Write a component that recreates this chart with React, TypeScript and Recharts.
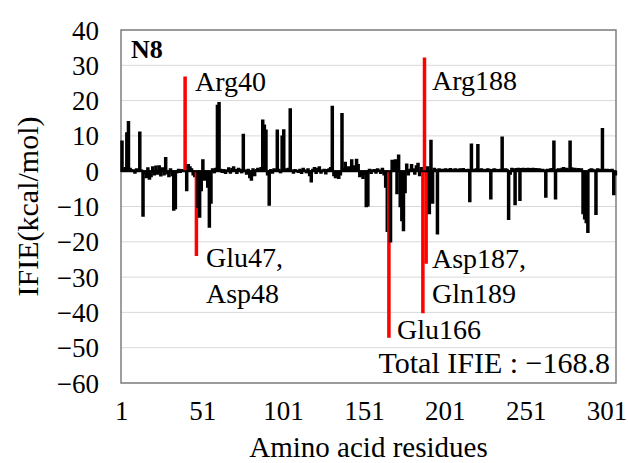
import React from 'react';
import { BarChart, Bar, XAxis, YAxis, CartesianGrid, Cell, ReferenceLine, ReferenceArea } from 'recharts';

// IFIE per residue (kcal/mol), residues 1..306
const ifie: number[] = [
  8.5, 0.5, 1.0, 10.8, 14.0, 0.8, 0.4, 0.3, -0.5, 0.6,
  0.4, 11.0, 0.3, -12.7, -0.6, -1.8, 0.9, -2.2, -1.5, 1.2,
  -1.0, 1.4, -0.8, 1.5, -1.3, 0.9, -1.0, 3.8, -0.7, -1.5,
  0.6, -1.2, -11.0, -10.6, -0.4, 0.5, -0.3, 0.4, 0.2, 26.6,
  -5.5, 1.8, 1.2, 0.6, -1.0, -1.5, -23.8, -10.2, -13.0, -5.5,
  3.2, -2.5, -1.0, -4.5, -15.8, -9.0, 0.6, -0.4, 0.8, 18.6,
  19.4, 0.5, -0.3, 0.4, -0.6, 0.3, 0.9, -0.5, 0.7, 1.2,
  0.4, -0.6, 0.8, 0.5, -0.4, 10.4, 0.3, -0.8, 0.5, -1.8,
  -2.5, 0.6, -1.2, 0.4, 0.8, 0.3, 1.0, 14.4, 13.0, 11.6,
  -1.0, -9.6, 0.4, -0.5, 0.6, 0.3, 11.6, 0.5, -0.4, 9.9,
  11.7, 0.6, 0.4, 0.8, 17.6, 0.3, -0.5, 0.4, 0.2, -0.3,
  0.5, -0.6, 0.8, 0.3, -0.4, 0.6, -1.2, -3.0, 0.5, 1.0,
  -0.6, 0.8, 1.2, -0.5, 0.3, 0.5, -0.7, 0.4, 0.6, 1.0,
  18.3, -1.2, -1.8, -0.6, -2.0, -1.0, 16.3, 0.8, 2.5, 0.6,
  1.2, 0.5, 3.2, 1.5, 0.8, 3.3, 1.8, -1.5, -1.0, -2.0,
  -0.8, -10.0, -9.8, 0.5, -0.6, 0.3, 0.4, -0.5, 0.6, 0.3,
  -0.6, 0.8, -1.0, -4.5, -17.0, -47.0, -20.0, 3.0, 2.8, 3.2,
  -6.3, 4.5, -10.0, -14.0, -16.8, -6.0, 2.0, -1.0, 0.5, 1.8,
  0.6, -0.8, 1.5, 2.2, -1.2, 1.0, -40.0, 32.0, -26.0, 1.2,
  -12.0, 8.7, -9.0, 0.8, 0.5, -17.7, 0.6, 0.4, 0.5, 0.3,
  0.6, 0.5, 0.4, 0.7, 0.5, 0.3, 0.6, 0.5, 0.4, 0.6,
  0.5, 0.7, 0.4, 0.3, 0.5, -8.6, 7.6, 0.5, 0.4, 0.6,
  7.5, 0.4, 0.6, 0.5, 0.3, 0.4, 0.6, 0.5, -7.8, 0.4,
  0.6, 0.5, 0.3, 0.4, 0.5, 9.6, 0.4, 0.6, 0.5, -13.6,
  -0.8, 0.8, 0.6, -9.4, 0.7, 0.8, -8.2, 0.7, 0.8, 0.6,
  0.7, 0.8, 0.6, 0.7, 0.8, 0.6, 0.7, 0.5, 0.6, 0.4,
  0.5, 0.3, -7.3, 0.5, 0.4, 0.6, 0.7, 8.5, -7.8, 0.5,
  0.6, 0.4, 0.8, 1.0, 0.6, 0.8, 0.5, 8.5, 0.9, 0.6,
  0.8, 0.4, 0.7, 0.5, 0.6, -12.0, -13.5, -14.5, -17.3, 0.4,
  0.6, 0.5, 0.3, -12.2, 0.6, 0.5, 0.4, 12.0, 0.5, 0.4,
  0.5, 0.3, 0.4, 0.5, -6.6, -1.0,
];

const residues = ifie.map((_, i) => i + 1);
const keyResidues = [40, 47, 166, 187, 188, 189];
const xTicks = [1, 51, 101, 151, 201, 251, 301];
const yTicks = [-60, -50, -40, -30, -20, -10, 0, 10, 20, 30, 40];

const data = residues.map((r, i) => ({ res: r, v: ifie[i] }));

const FONT = '"Liberation Serif", "Times New Roman", serif';
const fmt = (v: number) => (v < 0 ? '\u2212' + Math.abs(v) : String(v));

export default function App() {
  const tick = { fill: '#000', fontSize: 27, fontFamily: FONT };
  return (
    <div style={{ position: 'relative', width: 628, height: 463, background: '#fff' }}>
      <style>{`body{margin:0}`}</style>
      <BarChart
        width={628}
        height={463}
        data={data}
        margin={{ top: 30, right: 12, bottom: 0, left: 0 }}
        barCategoryGap={0}
      >
        <CartesianGrid vertical={false} stroke="#d9d9d9" />
        <XAxis
          dataKey="res"
          ticks={xTicks}
          interval={0}
          height={80}
          axisLine={false}
          tickLine={false}
          tickSize={0}
          tickMargin={18}
          tick={tick}
          label={{ value: 'Amino acid residues', position: 'insideBottom', offset: 6, fill: '#000', fontSize: 29, fontFamily: FONT }}
        />
        <YAxis
          domain={[-60, 40]}
          ticks={yTicks}
          interval={0}
          width={121}
          axisLine={false}
          tickLine={false}
          tickSize={0}
          tickMargin={22}
          tickFormatter={fmt}
          tick={tick}
          label={{ value: 'IFIE(kcal/mol)', angle: -90, position: 'center', dx: -33, fill: '#000', fontSize: 30, fontFamily: FONT }}
        />
        <ReferenceArea y1={-60} y2={40} fill="none" stroke="#7f7f7f" strokeWidth={1.5} />
        <Bar dataKey="v" isAnimationActive={false}>
          {data.map((d) => {
            const c = keyResidues.includes(d.res) ? '#ff0000' : '#000000';
            return <Cell key={d.res} fill={c} stroke={c} strokeWidth={1.5} />;
          })}
        </Bar>
        <ReferenceLine y={0} stroke="#000" strokeWidth={2} />
      </BarChart>
      <svg width={628} height={463} style={{ position: 'absolute', left: 0, top: 0, pointerEvents: 'none' }}
        fontFamily={FONT} fontSize={28} fill="#000">
        <text x={131} y={58} fontWeight="bold" fontSize={26}>N8</text>
        <text x={195} y={91}>Arg40</text>
        <text x={432} y={90}>Arg188</text>
        <text x={206} y={267}>Glu47,</text>
        <text x={206} y={303}>Asp48</text>
        <text x={432} y={268}>Asp187,</text>
        <text x={432} y={303}>Gln189</text>
        <text x={397} y={339}>Glu166</text>
        <text x={610} y={373} textAnchor="end" fontSize={30}>Total IFIE : {'\u2212'}168.8</text>
      </svg>
    </div>
  );
}
